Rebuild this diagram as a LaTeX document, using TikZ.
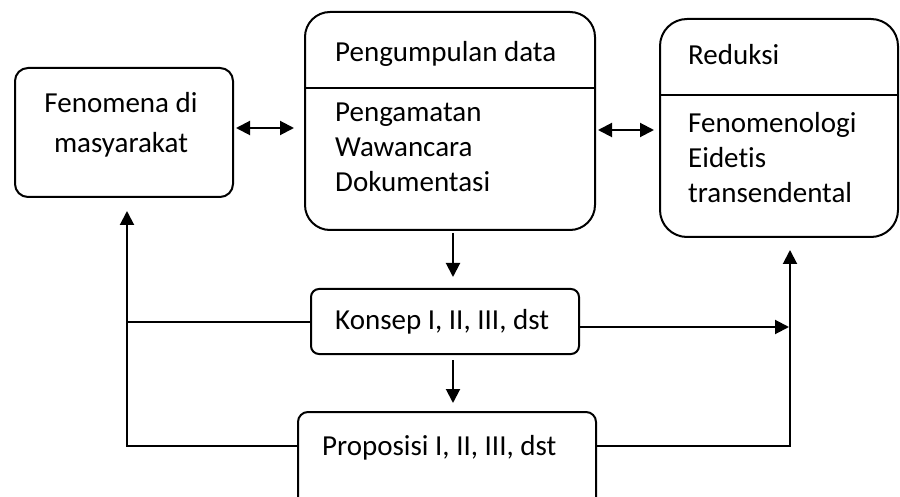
\documentclass[tikz,border=0pt]{standalone}
\usepackage{fontspec}
\setmainfont{Carlito}[Ligatures=NoCommon]
\usetikzlibrary{arrows.meta,calc}
\begin{document}
\begin{tikzpicture}[x=1pt,y=-1pt,
  box/.style={draw,line width=2pt,rounded corners=#1,inner sep=0pt},
  txt/.style={anchor=base west,inner sep=0pt,font=\fontsize{29}{35}\selectfont},
  ctxt/.style={anchor=base,inner sep=0pt,font=\fontsize{29}{35}\selectfont},
  ln/.style={line width=2pt},
  arr/.style={line width=2pt,-{Triangle[length=14pt,width=14pt]}},
  darr/.style={line width=2pt,{Triangle[length=14pt,width=14pt]}-{Triangle[length=14pt,width=14pt]}}]
\clip (0,0) rectangle (900,497);
\fill[white] (0,0) rectangle (900,497);
% boxes
\node[box=13pt,minimum width=218pt,minimum height=129pt] (fen) at (124,132.5) {};
\node[box=25pt,minimum width=290pt,minimum height=218pt] (pd) at (450,121) {};
\node[box=27pt,minimum width=238pt,minimum height=218pt] (red) at (779,128) {};
\node[box=8pt,minimum width=268pt,minimum height=65pt] (kon) at (445,321.5) {};
\node[box=10pt,minimum width=298pt,minimum height=128pt] (prop) at (447,476) {};
% dividers
\draw[ln] (pd.west |- 0,88) -- (pd.east |- 0,88);
\draw[ln] (red.west |- 0,95) -- (red.east |- 0,95);
% texts
\node[ctxt] (t1) at (121,113) {Fenomena di};
\node[ctxt] (t2) at (121,153) {masyarakat};
\node[txt] (t3) at (335,62) {Pengumpulan data};
\node[txt] (t4) at (335,122) {Pengamatan};
\node[txt] (t5) at (335,157) {Wawancara};
\node[txt] (t6) at (335,192) {Dokumentasi};
\node[txt] (t7) at (688,65) {Reduksi};
\node[txt] (t8) at (688,133) {Fenomenologi};
\node[txt] (t9) at (688,168) {Eidetis};
\node[txt] (t10) at (688,203) {transendental};
\node[txt] (t11) at (335,330) {Konsep I, II, III, dst};
\node[txt] (t12) at (322,455) {Proposisi I, II, III, dst};
% connectors
\draw[darr] ($(fen.east)+(2,-4.5)$) -- ($(pd.west)+(-10,7)$);
\draw[darr] ($(pd.east)+(2,9)$) -- ($(red.west)+(-5,2)$);
\draw[arr] ($(pd.south)+(3,2)$) -- ($(kon.north)+(8,-11)$);
\draw[arr] ($(kon.south)+(8,5)$) -- ($(prop.north)+(6,-8)$);
\draw[ln] (kon.west) -- (kon.west -| 127,0);
\draw[arr] ($(prop.north west)+(0,35)$) -| ($(fen.south)+(3,13)$);
\draw[arr] ($(kon.east)+(0,5.5)$) -- ($(kon.east)+(209,5.5)$);
\draw[arr] ($(prop.north east)+(0,35)$) -| ($(red.south)+(11,12)$);
\end{tikzpicture}
\end{document}
